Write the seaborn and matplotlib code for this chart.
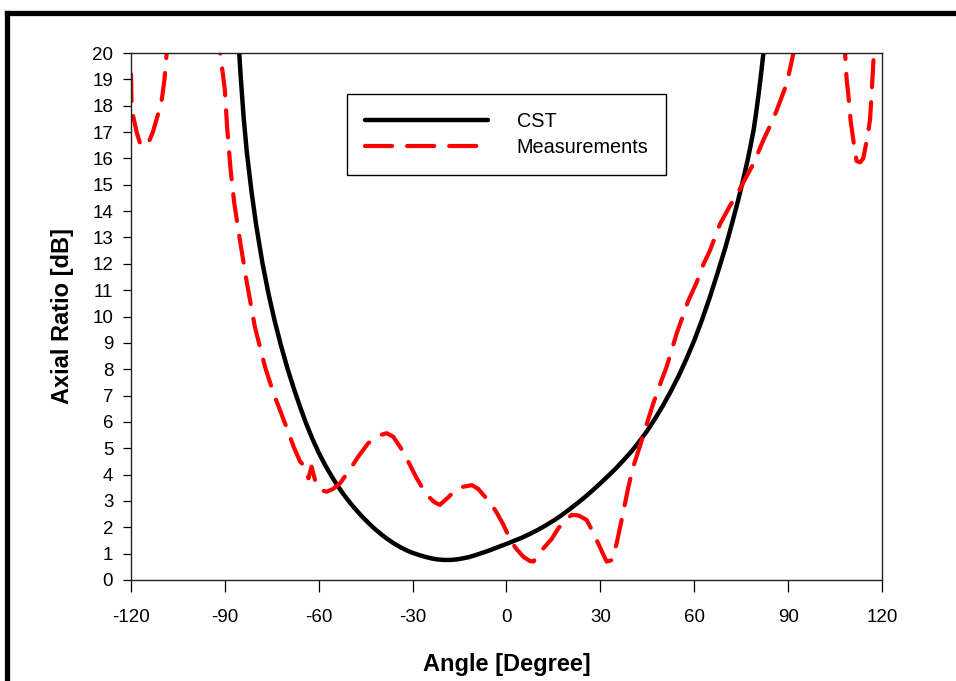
import matplotlib
matplotlib.use("Agg")
import matplotlib.pyplot as plt
from matplotlib.lines import Line2D
import numpy as np
import pandas as pd
import seaborn as sns

# Simulated (CST) axial ratio versus angle
cst_angle = [-86.0, -85.0, -84.0, -83.0, -81.5, -80.0, -78.0, -76.0, -74.0, -72.0,
             -70.0, -68.0, -66.0, -64.0, -62.0, -60.0, -58.0, -56.0, -54.0, -52.0,
             -50.0, -48.0, -46.0, -44.0, -42.0, -40.0, -38.0, -36.0, -34.0, -32.0,
             -30.0, -28.0, -26.0, -24.0, -22.0, -20.0, -18.0, -16.0, -14.0, -12.0,
             -10.0, -8.0, -6.0, -4.0, -2.0, 0.0, 2.5, 5.0, 7.5, 10.0,
             12.5, 15.0, 17.5, 20.0, 22.5, 25.0, 27.5, 30.0, 32.5, 35.0,
             37.5, 40.0, 42.5, 45.0, 47.5, 50.0, 52.5, 55.0, 57.5, 60.0,
             62.5, 65.0, 67.5, 70.0, 72.0, 74.0, 75.5, 77.0, 78.0, 79.0,
             79.8, 80.5, 81.3, 82.1, 82.6]
cst_ar = [21.2, 19.2, 17.55, 16.25, 14.75, 13.47, 12.03, 10.83, 9.79, 8.87,
          8.03, 7.28, 6.58, 5.93, 5.35, 4.83, 4.37, 3.96, 3.58, 3.24,
          2.93, 2.65, 2.39, 2.15, 1.93, 1.73, 1.55, 1.39, 1.25, 1.13,
          1.03, 0.95, 0.88, 0.82, 0.78, 0.76, 0.76, 0.78, 0.82, 0.87,
          0.94, 1.02, 1.1, 1.19, 1.28, 1.37, 1.49, 1.61, 1.75, 1.9,
          2.07, 2.25, 2.45, 2.67, 2.9, 3.14, 3.4, 3.67, 3.95, 4.24,
          4.56, 4.89, 5.26, 5.67, 6.13, 6.62, 7.16, 7.74, 8.39, 9.09,
          9.88, 10.74, 11.67, 12.64, 13.5, 14.4, 15.13, 15.9, 16.48, 17.1,
          17.75, 18.38, 19.15, 20.0, 20.55]

# Measured axial ratio, three separate traces (off-scale parts in between)
meas_left_angle = [-120.0, -119.8, -119.3, -118.2, -117.1, -115.8, -114.5, -113.0,
                   -111.3, -110.2, -109.3, -108.6, -108.2]
meas_left_ar = [19.2, 18.0, 17.6, 17.0, 16.57, 16.45, 16.57, 17.0,
                17.7, 18.2, 19.0, 20.0, 20.8]

meas_main_angle = [-92.5, -91.5, -90.0, -89.3, -88.2, -87.0, -85.2, -83.0, -80.4, -77.2,
                   -74.5, -72.4, -70.0, -68.0, -66.0, -64.4, -63.3, -62.3, -61.2, -59.6,
                   -57.5, -55.5, -53.2, -50.0, -47.4, -44.2, -40.4, -38.3, -36.2, -33.0,
                   -28.7, -25.5, -23.0, -21.3, -18.6, -16.0, -13.8, -11.0, -9.0, -7.4,
                   -5.0, -3.1, -1.0, 1.1, 3.0, 5.4, 7.5, 8.6, 10.2, 10.7,
                   12.5, 14.4, 16.5, 18.2, 20.8, 23.0, 25.6, 27.5, 29.3, 31.0,
                   32.0, 33.6, 35.2, 37.0, 38.9, 40.5, 42.7, 44.5, 46.9, 49.6,
                   51.2, 54.4, 58.1, 60.8, 63.0, 65.0, 68.2, 71.4, 74.0, 76.2,
                   78.9, 82.1, 84.5, 86.4, 89.6, 91.7, 92.5]
meas_main_ar = [21.0, 20.0, 18.6, 17.2, 15.6, 14.3, 12.9, 11.3, 9.6, 8.1,
                7.1, 6.45, 5.7, 5.05, 4.5, 4.3, 3.86, 4.3, 3.8, 3.42,
                3.35, 3.45, 3.67, 4.2, 4.68, 5.19, 5.5, 5.57, 5.44, 4.87,
                3.86, 3.23, 2.95, 2.85, 3.14, 3.45, 3.54, 3.6, 3.45, 3.23,
                2.9, 2.55, 2.1, 1.55, 1.2, 0.88, 0.72, 0.7, 0.95, 1.05,
                1.3, 1.55, 1.95, 2.21, 2.47, 2.45, 2.28, 1.85, 1.39, 0.95,
                0.7, 0.75, 1.39, 2.4, 3.5, 4.3, 5.1, 5.8, 6.7, 7.6,
                8.1, 9.36, 10.6, 11.3, 12.0, 12.5, 13.5, 14.2, 14.7, 15.2,
                15.8, 16.7, 17.3, 17.84, 18.85, 20.0, 20.6]

meas_right_angle = [107.9, 108.2, 108.7, 109.2, 110.0, 110.6, 111.3, 111.9, 113.0,
                    114.0, 115.0, 115.6, 116.2, 116.7, 117.4, 117.7]
meas_right_ar = [20.8, 20.0, 19.0, 18.47, 17.4, 16.9, 16.3, 15.9, 15.85,
                 16.0, 16.6, 17.0, 17.5, 18.5, 20.0, 20.8]

x_ticks = [-120, -90, -60, -30, 0, 30, 60, 90, 120]
y_ticks = list(range(0, 21))

sns.set_theme(style="ticks")
plt.rcParams["font.family"] = ["Liberation Sans", "DejaVu Sans"]
plt.rcParams["text.color"] = "black"
plt.rcParams["axes.labelcolor"] = "black"

cst_df = pd.DataFrame({"angle": cst_angle, "ar": cst_ar})
meas_df = pd.concat([
    pd.DataFrame({"angle": meas_left_angle, "ar": meas_left_ar, "trace": 0}),
    pd.DataFrame({"angle": meas_main_angle, "ar": meas_main_ar, "trace": 1}),
    pd.DataFrame({"angle": meas_right_angle, "ar": meas_right_ar, "trace": 2}),
], ignore_index=True)

fig = plt.figure(figsize=(9.56, 6.81), dpi=100)
ax = fig.add_axes([131 / 956, 1 - 580 / 681, 751 / 956, 527 / 681])

dash = (0, (6.5, 3.6))
sns.lineplot(data=cst_df, x="angle", y="ar", ax=ax, color="black", lw=3.2,
             solid_capstyle="butt", solid_joinstyle="round",
             estimator=None, sort=False)
sns.lineplot(data=meas_df, x="angle", y="ar", units="trace", estimator=None,
             ax=ax, color="#ff0000", lw=3.0, linestyle=dash,
             dash_capstyle="round", dash_joinstyle="round", sort=False)

ax.set_xlim(-120, 120)
ax.set_ylim(0, 20)
ax.set_xticks(x_ticks)
ax.set_xticklabels([str(v) for v in x_ticks])
ax.set_yticks(y_ticks)
ax.set_yticklabels([str(v) for v in y_ticks])

for side in ["left", "right", "top", "bottom"]:
    ax.spines[side].set_visible(True)
    ax.spines[side].set_linewidth(1.0)
    ax.spines[side].set_color("#222222")

ax.tick_params(axis="x", direction="out", length=8.6, width=0.9, pad=12,
               labelsize=13.5, colors="black")
ax.tick_params(axis="y", direction="out", length=5.8, width=0.9, pad=7,
               labelsize=13.5, colors="black")

ax.set_xlabel("Angle [Degree]", fontsize=17, fontweight="bold", labelpad=20,
              color="black")
ax.set_ylabel("Axial Ratio [dB]", fontsize=17, fontweight="bold", labelpad=13,
              color="black")

handles = [
    Line2D([], [], color="black", lw=3.2, solid_capstyle="round"),
    Line2D([], [], color="#ff0000", lw=3.0, linestyle=dash, dash_capstyle="round"),
]
leg = ax.legend(handles, ["CST", "Measurements"], loc="upper left",
                bbox_to_anchor=(347 / 956, 1 - 94 / 681),
                bbox_transform=fig.transFigure, fontsize=14.3,
                handlelength=6.2, handletextpad=1.45, borderpad=0.9,
                labelspacing=0.38, fancybox=False, framealpha=1,
                borderaxespad=0)
leg.get_frame().set_edgecolor("black")
leg.get_frame().set_linewidth(1.0)

# Outer page frame (top and left edges)
fig.add_artist(Line2D([7 / 956, 1.0], [1 - 12.5 / 681, 1 - 12.5 / 681],
                      color="black", lw=3.8, transform=fig.transFigure,
                      solid_capstyle="projecting"))
fig.add_artist(Line2D([7 / 956, 7 / 956], [1 - 12.5 / 681, 0.0],
                      color="black", lw=3.8, transform=fig.transFigure,
                      solid_capstyle="projecting"))

fig.savefig("out.png", dpi=100, facecolor="white")
